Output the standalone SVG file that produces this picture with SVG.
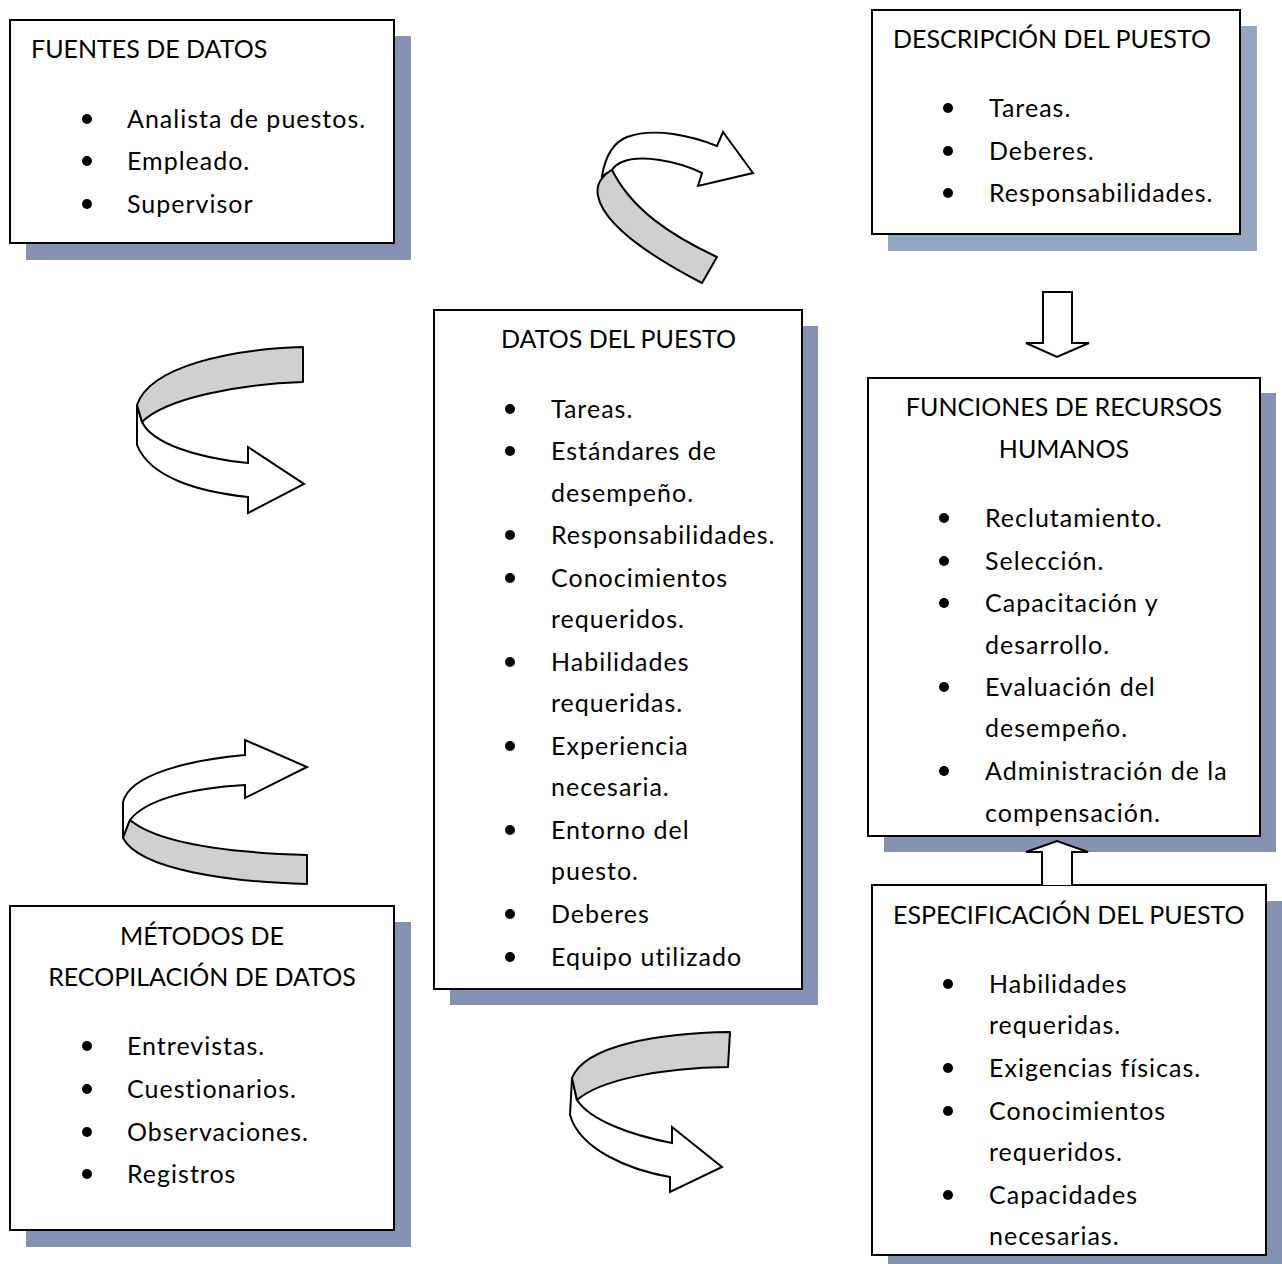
<svg xmlns="http://www.w3.org/2000/svg" width="1282" height="1264" viewBox="0 0 1282 1264">
  <style>
    .shadow { fill: #8391b2; }
    .shadow-light { fill: #94a7c3; }
    .box { fill: #ffffff; stroke: #000000; stroke-width: 2; }
    text { font-family: Lato, "Liberation Sans", sans-serif; font-size: 25px; fill: #000000; letter-spacing: 1px; }
    .t { letter-spacing: 0; }
    .c { text-anchor: middle; }
    .dot { fill: #000000; }
    .band { fill: #d0d0d0; stroke: #000000; stroke-width: 2; stroke-linejoin: round; }
    .flat { fill: #ffffff; stroke: #000000; stroke-width: 2; stroke-linejoin: miter; }
  </style>

  <rect width="1282" height="1264" fill="#ffffff"/>

  <!-- Sources -->
  <g id="fuentes">
    <rect class="shadow" x="26" y="36" width="385" height="224"/>
    <rect class="box" x="10" y="20" width="384" height="223"/>
    <text class="t" x="31" y="58">FUENTES DE DATOS</text>
    <circle class="dot" cx="87" cy="119" r="5"/><text x="127" y="128">Analista de puestos.</text>
    <circle class="dot" cx="87" cy="161" r="5"/><text x="127" y="170">Empleado.</text>
    <circle class="dot" cx="87" cy="204" r="5"/><text x="127" y="213">Supervisor</text>
  </g>

  <!-- Job description -->
  <g id="descripcion">
    <rect class="shadow-light" x="888" y="26" width="369" height="225"/>
    <rect class="box" x="872" y="10" width="368" height="224"/>
    <text class="t" x="893" y="48">DESCRIPCIÓN DEL PUESTO</text>
    <circle class="dot" cx="948" cy="108" r="5"/><text x="989" y="117">Tareas.</text>
    <circle class="dot" cx="948" cy="151" r="5"/><text x="989" y="160">Deberes.</text>
    <circle class="dot" cx="948" cy="193" r="5"/><text x="989" y="202">Responsabilidades.</text>
  </g>

  <!-- Job data -->
  <g id="datos">
    <rect class="shadow" x="450" y="326" width="368" height="679"/>
    <rect class="box" x="434" y="310" width="368" height="679"/>
    <text class="t" x="501" y="348">DATOS DEL PUESTO</text>
    <circle class="dot" cx="510" cy="409" r="5"/><text x="551" y="418">Tareas.</text>
    <circle class="dot" cx="510" cy="451" r="5"/><text x="551" y="460">Estándares de</text>
    <text x="551" y="502">desempeño.</text>
    <circle class="dot" cx="510" cy="535" r="5"/><text x="551" y="544">Responsabilidades.</text>
    <circle class="dot" cx="510" cy="578" r="5"/><text x="551" y="587">Conocimientos</text>
    <text x="551" y="628">requeridos.</text>
    <circle class="dot" cx="510" cy="662" r="5"/><text x="551" y="671">Habilidades</text>
    <text x="551" y="712">requeridas.</text>
    <circle class="dot" cx="510" cy="746" r="5"/><text x="551" y="755">Experiencia</text>
    <text x="551" y="796">necesaria.</text>
    <circle class="dot" cx="510" cy="830" r="5"/><text x="551" y="839">Entorno del</text>
    <text x="551" y="880">puesto.</text>
    <circle class="dot" cx="510" cy="914" r="5"/><text x="551" y="923">Deberes</text>
    <circle class="dot" cx="510" cy="957" r="5"/><text x="551" y="966">Equipo utilizado</text>
  </g>

  <!-- HR functions -->
  <g id="funciones">
    <rect class="shadow" x="884" y="393" width="392" height="459"/>
    <rect class="box" x="868" y="378" width="392" height="458"/>
    <text class="t c" x="1064" y="416">FUNCIONES DE RECURSOS</text>
    <text class="t c" x="1064" y="458">HUMANOS</text>
    <circle class="dot" cx="944" cy="518" r="5"/><text x="985" y="527">Reclutamiento.</text>
    <circle class="dot" cx="944" cy="561" r="5"/><text x="985" y="570">Selección.</text>
    <circle class="dot" cx="944" cy="603" r="5"/><text x="985" y="612">Capacitación y</text>
    <text x="985" y="654">desarrollo.</text>
    <circle class="dot" cx="944" cy="687" r="5"/><text x="985" y="696">Evaluación del</text>
    <text x="985" y="737">desempeño.</text>
    <circle class="dot" cx="944" cy="771" r="5"/><text x="985" y="780">Administración de la</text>
    <text x="985" y="822">compensación.</text>
  </g>

  <!-- Data collection methods -->
  <g id="metodos">
    <rect class="shadow" x="26" y="922" width="385" height="325"/>
    <rect class="box" x="10" y="906" width="384" height="324"/>
    <text class="t c" x="202" y="945">MÉTODOS DE</text>
    <text class="t c" x="202" y="986">RECOPILACIÓN DE DATOS</text>
    <circle class="dot" cx="87" cy="1046" r="5"/><text x="127" y="1055">Entrevistas.</text>
    <circle class="dot" cx="87" cy="1089" r="5"/><text x="127" y="1098">Cuestionarios.</text>
    <circle class="dot" cx="87" cy="1132" r="5"/><text x="127" y="1141">Observaciones.</text>
    <circle class="dot" cx="87" cy="1174" r="5"/><text x="127" y="1183">Registros</text>
  </g>

  <!-- Job specification -->
  <g id="especificacion">
    <rect class="shadow" x="888" y="901" width="394" height="363"/>
    <rect class="box" x="872" y="885" width="394" height="370"/>
    <text class="t" x="893" y="924">ESPECIFICACIÓN DEL PUESTO</text>
    <circle class="dot" cx="948" cy="984" r="5"/><text x="989" y="993">Habilidades</text>
    <text x="989" y="1034">requeridas.</text>
    <circle class="dot" cx="948" cy="1068" r="5"/><text x="989" y="1077">Exigencias físicas.</text>
    <circle class="dot" cx="948" cy="1111" r="5"/><text x="989" y="1120">Conocimientos</text>
    <text x="989" y="1161">requeridos.</text>
    <circle class="dot" cx="948" cy="1195" r="5"/><text x="989" y="1204">Capacidades</text>
    <text x="989" y="1245">necesarias.</text>
  </g>

  <!-- Connectors: ribbon arrows and block arrows -->
  <g id="connectors">
    <!-- top centre ribbon, towards the description -->
    <path class="flat" d="M602,176 C605,158 612,143 627,137 C655,127 692,136 717,146 L723,132 L753,173 L698,186 L702,173 C678,161 640,154 622,162 C617,164 614,167 612,170 Z"/>
    <path class="band" d="M612,170 C632,210 672,236 717,257 L702,283 C652,257 604,226 598,196 C596,186 600,177 612,170 Z"/>

    <!-- left ribbon, towards the job data -->
    <path class="flat" d="M137,405 L137,445 C150,478 200,492 248,497 L248,513 L304,484 L248,447 L248,463 C196,458 152,443 142,422 Z"/>
    <path class="band" d="M303,347 C232,349 150,366 137,405 L142,422 C166,398 240,384 303,382 Z"/>

    <!-- lower left ribbon, towards the job data -->
    <path class="flat" d="M123,838 L123,802 C130,774 190,760 245,755 L245,740 L307,767 L245,798 L245,785 C190,788 145,800 130,820 Z"/>
    <path class="band" d="M130,820 C160,845 240,853 307,855 L307,884 C230,882 140,870 123,838 Z"/>

    <!-- bottom centre ribbon, towards the specification -->
    <path class="flat" d="M572,1078 L570,1115 C580,1150 630,1170 670,1177 L670,1192 L722,1167 L672,1127 L672,1143 C630,1135 590,1120 577,1100 Z"/>
    <path class="band" d="M730,1032 C660,1033 585,1045 572,1078 L577,1100 C600,1080 660,1068 728,1067 Z"/>

    <!-- block arrow down: description to HR functions -->
    <path class="flat" d="M1043,292 L1072,292 L1072,343 L1089,343 L1057,357 L1026,343 L1043,343 Z"/>
    <!-- block arrow up: specification to HR functions -->
    <path class="flat" d="M1042,885 L1042,852 L1026,852 L1057,841 L1088,852 L1072,852 L1072,885"/>
  </g>
</svg>
